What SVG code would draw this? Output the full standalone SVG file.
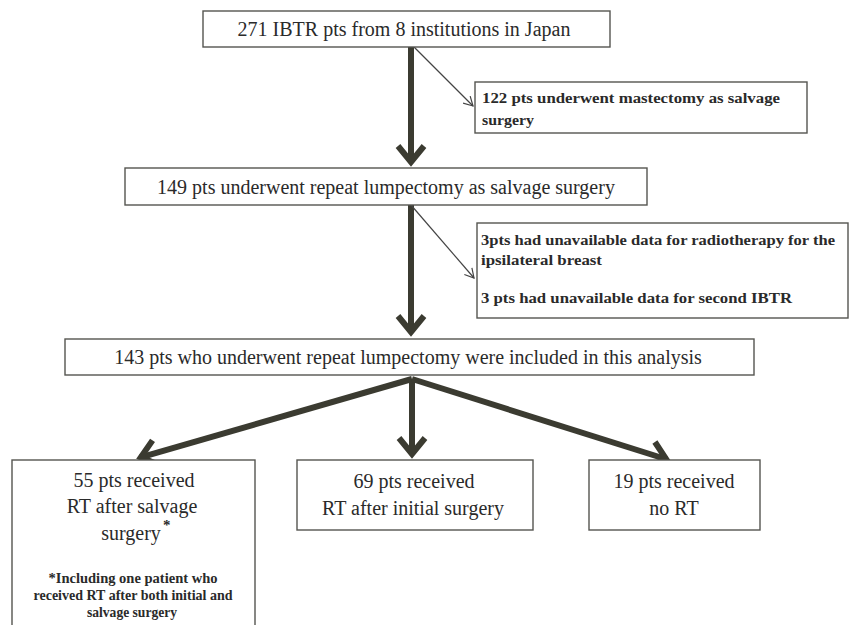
<svg xmlns="http://www.w3.org/2000/svg" width="853" height="625" viewBox="0 0 853 625" font-family="Liberation Serif">
<style>
  .box { fill: #ffffff; stroke: #555550; stroke-width: 1.4; }
  .big { font-size: 20px; fill: #2a2a2a; text-anchor: middle; }
  .small { font-size: 15px; font-weight: bold; fill: #2a2a2a; }
  .foot { font-size: 14px; font-weight: bold; fill: #2a2a2a; }
  .thick { fill: none; stroke: #3b3b31; stroke-width: 6; }
  .thin { fill: none; stroke: #444444; stroke-width: 1.2; }
</style>
<defs>
  <marker id="headThick" markerUnits="userSpaceOnUse" viewBox="-30 -16 34 32" markerWidth="34" markerHeight="32" refX="-5" refY="0" orient="auto" overflow="visible">
    <path d="M-22,-13 L-6,0 L-22,13" fill="none" stroke="#3b3b31" stroke-width="6"/>
  </marker>
  <marker id="headThin" markerUnits="userSpaceOnUse" viewBox="-12 -7 14 14" markerWidth="14" markerHeight="14" refX="0" refY="0" orient="auto" overflow="visible">
    <path d="M-9,-5 L0,0 L-9,5" fill="none" stroke="#444444" stroke-width="1.2"/>
  </marker>
</defs>
<rect width="853" height="625" fill="#ffffff"/>

<g id="connectors">
  <line class="thick" x1="411" y1="47" x2="411" y2="163" marker-end="url(#headThick)"/>
  <line class="thick" x1="411" y1="205" x2="411" y2="333" marker-end="url(#headThick)"/>
  <line class="thin" x1="414" y1="47" x2="473" y2="106" marker-end="url(#headThin)"/>
  <line class="thin" x1="411" y1="205" x2="474" y2="278" marker-end="url(#headThin)"/>
  <line class="thick" x1="412" y1="379" x2="139.8" y2="457.6" marker-end="url(#headThick)"/>
  <line class="thick" x1="412" y1="379" x2="412" y2="455" marker-end="url(#headThick)"/>
  <line class="thick" x1="412" y1="379" x2="667.2" y2="459.5" marker-end="url(#headThick)"/>
</g>

<g id="n1">
  <rect class="box" x="203" y="11" width="407" height="36"/>
  <text class="big" x="404" y="36">271 IBTR pts from 8 institutions in Japan</text>
</g>

<g id="n2">
  <rect class="box" x="475" y="82" width="332" height="51"/>
  <text class="small" x="482" y="103" textLength="298" lengthAdjust="spacingAndGlyphs">122 pts underwent mastectomy as salvage</text>
  <text class="small" x="482" y="125" textLength="52" lengthAdjust="spacingAndGlyphs">surgery</text>
</g>

<g id="n3">
  <rect class="box" x="125" y="168" width="522" height="37"/>
  <text class="big" x="386" y="194">149 pts underwent repeat lumpectomy as salvage surgery</text>
</g>

<g id="n4">
  <rect class="box" x="477" y="223" width="371" height="95"/>
  <text class="small" x="481" y="245" textLength="354" lengthAdjust="spacingAndGlyphs">3pts  had unavailable data for radiotherapy for the</text>
  <text class="small" x="481" y="265" textLength="121" lengthAdjust="spacingAndGlyphs">ipsilateral breast</text>
  <text class="small" x="481" y="303" textLength="311" lengthAdjust="spacingAndGlyphs">3 pts had unavailable data for second IBTR</text>
</g>

<g id="n5">
  <rect class="box" x="65" y="339" width="689" height="36"/>
  <text class="big" x="408" y="364">143 pts who underwent repeat lumpectomy were included in this analysis</text>
</g>

<g id="n6">
  <rect class="box" x="12" y="460" width="243" height="172"/>
  <text class="big" x="134" y="487">55 pts received</text>
  <text class="big" x="132" y="513">RT after salvage</text>
  <text class="big" x="131" y="540">surgery</text>
  <text class="small" x="163" y="530" font-size="11">*</text>
  <text class="foot" x="133" y="583" text-anchor="middle" textLength="169" lengthAdjust="spacingAndGlyphs">*Including one patient who</text>
  <text class="foot" x="133" y="600" text-anchor="middle" textLength="199" lengthAdjust="spacingAndGlyphs">received RT after both initial and</text>
  <text class="foot" x="132" y="617" text-anchor="middle" textLength="90" lengthAdjust="spacingAndGlyphs">salvage surgery</text>
</g>

<g id="n7">
  <rect class="box" x="297" y="460" width="236" height="70"/>
  <text class="big" x="414" y="488">69 pts received</text>
  <text class="big" x="413" y="515">RT after initial surgery</text>
</g>

<g id="n8">
  <rect class="box" x="589" y="460" width="171" height="70"/>
  <text class="big" x="674" y="488">19 pts received</text>
  <text class="big" x="674" y="515">no RT</text>
</g>
</svg>
